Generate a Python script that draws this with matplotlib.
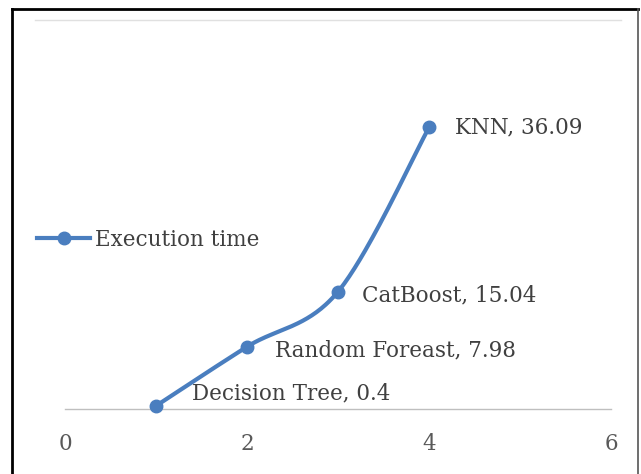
import numpy as np
import matplotlib
matplotlib.use("Agg")
import matplotlib.pyplot as plt
from matplotlib.lines import Line2D

# Execution time per model
models = ["Decision Tree", "Random Foreast", "CatBoost", "KNN"]
x_vals = [1, 2, 3, 4]
times = [0.4, 7.98, 15.04, 36.09]
x_ticks = [0, 2, 4, 6]
series_name = "Execution time"

# label offsets in points (dx, dy)
label_offsets = [(26, 9), (20, -3), (17, -3), (19, 0)]

W, H, DPI = 641, 474, 100
fig = plt.figure(figsize=(W / DPI, H / DPI), dpi=DPI)
fig.patch.set_facecolor("white")

ax_left, ax_right = 65, 611
ax_bottom, ax_top = 409, 19
ax = fig.add_axes([ax_left / W, 1 - ax_bottom / H,
                   (ax_right - ax_left) / W, (ax_bottom - ax_top) / H])
ax.set_xlim(0, 6)
ax.set_ylim(0, 50)
ax.patch.set_alpha(0)

line_color = "#4A7EBF"
text_color = "#404040"
font = "DejaVu Serif"
fsize = 15.5

# smoothed curve (cubic Bezier through points, computed in display space)
pts = ax.transData.transform(np.column_stack([x_vals, times]))
ext = np.vstack([pts[0], pts, pts[-1]])
curve = []
tt = np.linspace(0, 1, 60)
for i in range(len(pts) - 1):
    p0, p3 = ext[i + 1], ext[i + 2]
    p1 = p0 + (ext[i + 2] - ext[i]) / 6.0
    p2 = p3 - (ext[i + 3] - ext[i + 1]) / 6.0
    seg = ((1 - tt) ** 3)[:, None] * p0 + (3 * (1 - tt) ** 2 * tt)[:, None] * p1 \
        + (3 * (1 - tt) * tt ** 2)[:, None] * p2 + (tt ** 3)[:, None] * p3
    curve.append(seg)
curve = ax.transData.inverted().transform(np.vstack(curve))
ax.plot(curve[:, 0], curve[:, 1], color=line_color, lw=3.0,
        solid_capstyle="round", zorder=3, clip_on=False)
ax.plot(x_vals, times, "o", color=line_color, ms=9, zorder=4, clip_on=False)

for xv, yv, name, (dx, dy) in zip(x_vals, times, models, label_offsets):
    ax.annotate(f"{name}, {yv:g}", (xv, yv), xytext=(dx, dy),
                textcoords="offset points", ha="left", va="center",
                fontsize=fsize, family=font, color=text_color)

# axes styling
for s in ["left", "right", "top"]:
    ax.spines[s].set_visible(False)
ax.spines["bottom"].set_color("#BFBFBF")
ax.spines["bottom"].set_linewidth(1.0)
ax.set_yticks([])
ax.set_xticks(x_ticks)
ax.set_xticklabels([str(v) for v in x_ticks], family=font, fontsize=fsize,
                   color="#595959")
ax.tick_params(axis="x", length=0, pad=17)

# faint top gridline
fig.add_artist(Line2D([35 / W, 621 / W], [1 - 20 / H, 1 - 20 / H],
                      color="#E0E0E0", lw=1.0))

# legend on the left
leg_h = [Line2D([], [], color=line_color, lw=3.0, marker="o", ms=9)]
fig.legend(leg_h, [series_name], loc="center left",
           bbox_to_anchor=(28 / W, 1 - 240 / H), frameon=False,
           prop={"family": font, "size": fsize}, labelcolor=text_color,
           handlelength=2.5, handletextpad=0.2, borderaxespad=0)

# outer frame
fig.add_artist(Line2D([12 / W, 12 / W], [0, 1 - 9 / H], color="black", lw=2.0))
fig.add_artist(Line2D([12 / W, 638 / W], [1 - 9 / H, 1 - 9 / H], color="black", lw=2.0))
fig.add_artist(Line2D([638 / W, 638 / W], [0, 1 - 9 / H], color="#555555", lw=1.2))

fig.savefig("out.png", dpi=DPI, facecolor="white")
